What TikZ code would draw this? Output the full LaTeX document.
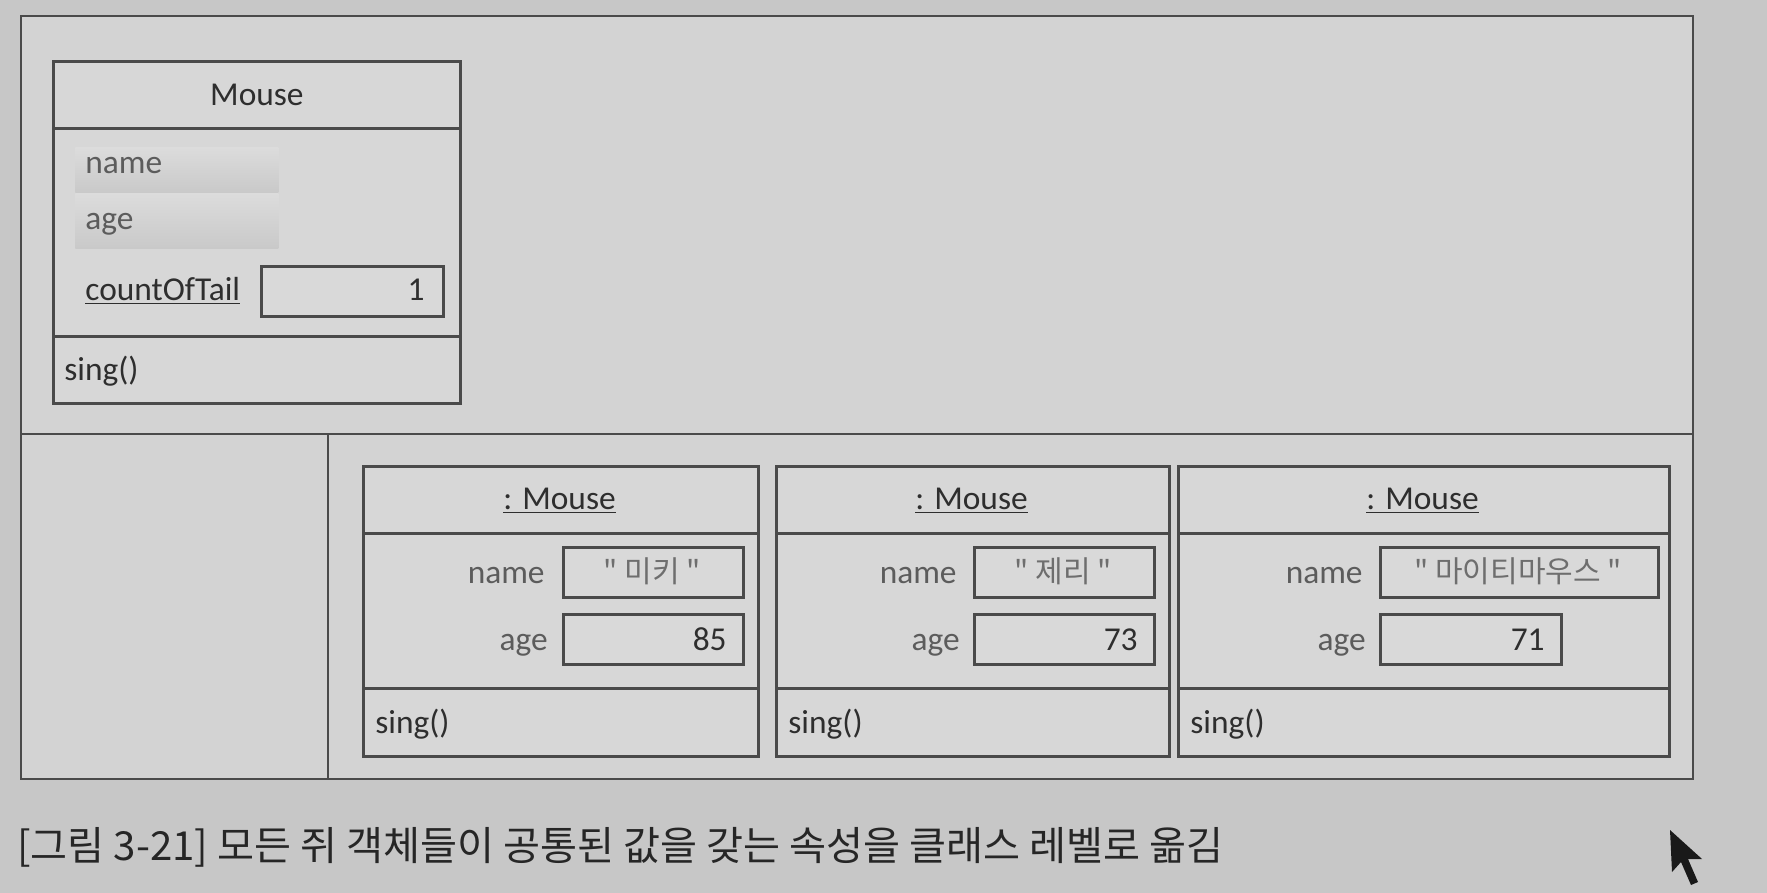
\documentclass[tikz,border=0pt]{standalone}
\usepackage{fontspec}
\setmainfont{Carlito}
\newfontfamily\hangul{Noto Sans CJK KR}
\usetikzlibrary{positioning}
\definecolor{ScreenGray}{HTML}{C7C7C7}
\definecolor{PanelGray}{HTML}{D3D3D3}
\definecolor{BoxGray}{HTML}{D7D7D7}
\definecolor{SlotGray}{HTML}{D9D9D9}
\definecolor{BandTop}{HTML}{DCDCDC}
\definecolor{BandBottom}{HTML}{C9C9C9}
\definecolor{LineGray}{HTML}{4A4A4A}
\definecolor{TextGray}{HTML}{2E2E2E}
\definecolor{NameGray}{HTML}{5C5C5C}
\definecolor{ValueGray}{HTML}{6E6E6E}

\begin{document}
\begin{tikzpicture}[x=0.5pt, y=-0.5pt, text=TextGray,
   font=\fontsize{16.7}{20}\selectfont,
   panel/.style={draw=LineGray, line width=1pt, fill=PanelGray, anchor=north west, inner sep=0pt},
   part/.style={draw=LineGray, line width=1.4pt, fill=BoxGray, anchor=north west, inner sep=0pt},
   slot/.style={draw=LineGray, line width=1.5pt, fill=SlotGray, anchor=north west, inner sep=0pt,
                minimum height=25pt},
   band/.style={anchor=north west, inner sep=0pt, minimum width=101.5pt,
                top color=BandTop, bottom color=BandBottom},
   attrtxt/.style={anchor=base west, inner sep=0pt},
   rowtxt/.style={anchor=base east, inner sep=0pt, text=NameGray},
   numtxt/.style={anchor=base east, inner sep=0pt},
   valtxt/.style={anchor=base, inner sep=0pt, text=ValueGray, font=\hangul\fontsize{15}{18}\selectfont}]
  \useasboundingbox (0,0) rectangle (1767,893);
  \fill[ScreenGray] (0,0) rectangle (1767,893);

  % frame
  \node[panel, minimum width=836pt, minimum height=209pt]    (classpanel) at (20,15)  {};
  \node[panel, minimum width=153.5pt, minimum height=172.5pt] (emptypanel) at (20,433) {};
  \node[panel, minimum width=682.5pt, minimum height=172.5pt] (objpanel)   at (327,433) {};

  % class Mouse
  \node[part, minimum width=203.5pt, minimum height=33.5pt] (cls)     at (52,60)  {Mouse};
  \node[part, minimum width=203.5pt, minimum height=104pt]  (clsattr) at (52,127) {};
  \node[part, minimum width=203.5pt, minimum height=33.5pt] (clsops)  at (52,335) {};
  \node[band, minimum height=22.5pt] (nameband) at (75,147) {};
  \node[band, minimum height=27.5pt] (ageband)  at (75,193) {};
  \node[attrtxt, text=NameGray] (clsname) at (85,174) {name};
  \node[attrtxt, text=NameGray] (clsage)  at (85,230) {age};
  \node[attrtxt] (clstail) at (85,300) {\underline{countOfTail}};
  \node[slot, minimum width=91pt] (tailslot) at (260,265) {};
  \node[numtxt] (tailval) at (425,300) {1};
  \node[attrtxt] (clssing) at (64,380) {sing()};

  % object 1
  \node[part, minimum width=197.5pt, minimum height=33.5pt] (mickey)     at (362,465) {};
  \node[part, minimum width=197.5pt, minimum height=77.5pt] (mickeyattr) at (362,532) {};
  \node[part, minimum width=197.5pt, minimum height=34pt]   (mickeyops)  at (362,687) {};
  \node[anchor=base, inner sep=0pt] (mickeytitle) at (559.5,509) {\underline{: Mouse}};
  \node[rowtxt] (mickeyname) at (545,583) {name};
  \node[rowtxt] (mickeyage)  at (548,650) {age};
  \node[slot, minimum width=90pt] (mickeynslot) at (562,546) {};
  \node[slot, minimum width=90pt] (mickeyaslot) at (562,613) {};
  \node[valtxt] (mickeyval) at (652,582) {" 미키 "};
  \node[numtxt] (mickeynum) at (727,650) {85};
  \node[attrtxt] (mickeysing) at (375,733) {sing()};

  % object 2
  \node[part, minimum width=196.5pt, minimum height=33.5pt] (jerry)     at (775,465) {};
  \node[part, minimum width=196.5pt, minimum height=77.5pt] (jerryattr) at (775,532) {};
  \node[part, minimum width=196.5pt, minimum height=34pt]   (jerryops)  at (775,687) {};
  \node[anchor=base, inner sep=0pt] (jerrytitle) at (971.5,509) {\underline{: Mouse}};
  \node[rowtxt] (jerryname) at (957,583) {name};
  \node[rowtxt] (jerryage)  at (960,650) {age};
  \node[slot, minimum width=90pt] (jerrynslot) at (973,546) {};
  \node[slot, minimum width=90pt] (jerryaslot) at (973,613) {};
  \node[valtxt] (jerryval) at (1063,582) {" 제리 "};
  \node[numtxt] (jerrynum) at (1138,650) {73};
  \node[attrtxt] (jerrysing) at (788,733) {sing()};

  % object 3
  \node[part, minimum width=245.5pt, minimum height=33.5pt] (mighty)     at (1177,465) {};
  \node[part, minimum width=245.5pt, minimum height=77.5pt] (mightyattr) at (1177,532) {};
  \node[part, minimum width=245.5pt, minimum height=34pt]   (mightyops)  at (1177,687) {};
  \node[anchor=base, inner sep=0pt] (mightytitle) at (1422.5,509) {\underline{: Mouse}};
  \node[rowtxt] (mightyname) at (1363,583) {name};
  \node[rowtxt] (mightyage)  at (1366,650) {age};
  \node[slot, minimum width=139pt]  (mightynslot) at (1379,546) {};
  \node[slot, minimum width=90.5pt] (mightyaslot) at (1379,613) {};
  \node[valtxt] (mightyval) at (1518,582) {" 마이티마우스 "};
  \node[numtxt] (mightynum) at (1545,650) {71};
  \node[attrtxt] (mightysing) at (1190,733) {sing()};

  % caption
  \node[anchor=base west, inner sep=0pt, text=black!85] (caption) at (17,860)
    {\resizebox{603pt}{\height}{\hangul\fontsize{20}{24}\selectfont [그림 3-21] 모든 쥐 객체들이 공통된 값을 갖는 속성을 클래스 레벨로 옮김}};

  % mouse pointer
  \fill[black!90] (1670,830) -- (1672,872) -- (1681,862) -- (1691,885) -- (1698,882)
    -- (1688,859) -- (1702,859) -- cycle;
\end{tikzpicture}
\end{document}
